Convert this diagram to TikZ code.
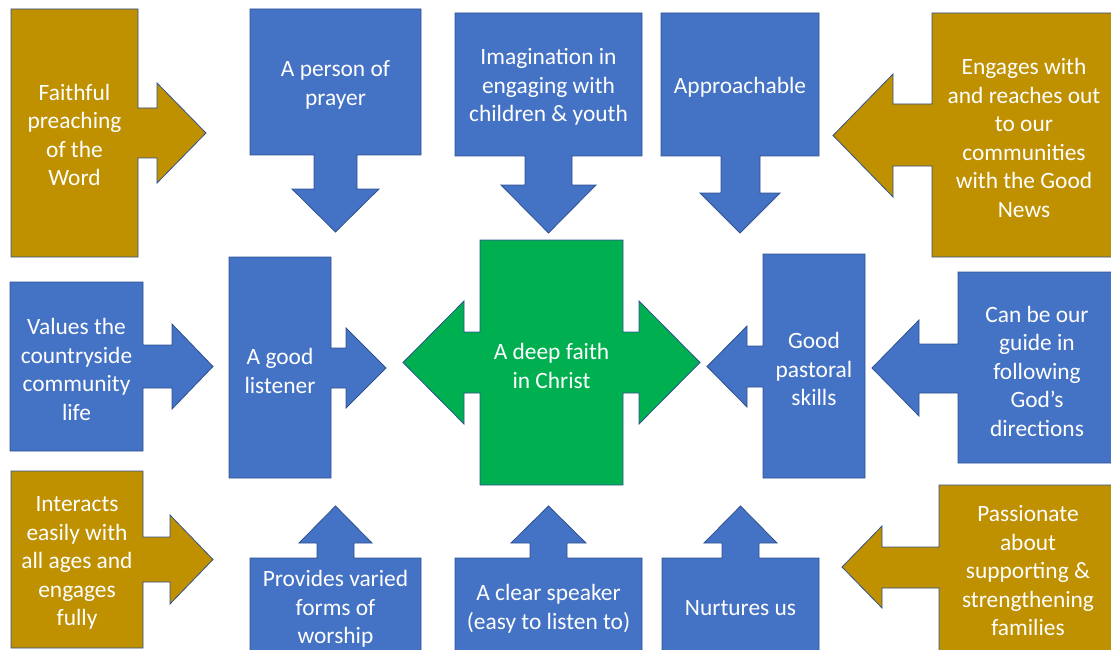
\documentclass[tikz,border=0pt]{standalone}
\usepackage{fontspec}
\setmainfont{Carlito}
\usepackage{tikz}
\usetikzlibrary{positioning}
\definecolor{officeblue}{HTML}{4472C4}
\definecolor{officegold}{HTML}{BF9000}
\definecolor{officegreen}{HTML}{00B050}
\definecolor{officeedge}{HTML}{2F528F}
\tikzset{bluebox/.style={fill=officeblue, draw=officeedge, line width=0.8pt}}
\tikzset{goldbox/.style={fill=officegold, draw=officeedge, line width=0.8pt}}
\tikzset{greenbox/.style={fill=officegreen, draw=officeedge, line width=0.8pt}}
\tikzset{boxtext/.style={text=white, align=center, inner sep=0pt, yshift=-2pt,
    font=\fontsize{23.4}{28.5}\selectfont}}

\begin{document}
\begin{tikzpicture}[x=1pt,y=-1pt]
          \useasboundingbox (0,0) rectangle (1111,650);
          % top row
          \draw[goldbox] (11,9) -- (138,9) -- (138,108) -- (157,108) -- (157,83) -- (206,133)
          -- (157,183) -- (157,158) -- (138,158) -- (138,257) -- (11,257) -- cycle;
          \node[boxtext] (faithful) at (74.5,133) {Faithful\\preaching\\of the\\Word};
          \draw[bluebox] (250,9) -- (421,9) -- (421,155) -- (357,155) -- (357,189) -- (379,189)
          -- (335.5,232) -- (292,189) -- (314,189) -- (314,155) -- (250,155) -- cycle;
          \node[boxtext] (prayer) at (335.5,83) {A person of\\prayer};
          \draw[bluebox] (455,13) -- (642,13) -- (642,156) -- (572,156) -- (572,185) -- (596,185)
          -- (548.5,233) -- (501,185) -- (525,185) -- (525,156) -- (455,156) -- cycle;
          \node[boxtext] (imagination) at (548.5,85) {Imagination in\\engaging with\\children \& youth};
          \draw[bluebox] (661,13) -- (819,13) -- (819,156) -- (760,156) -- (760,193) -- (780,193)
          -- (740,233) -- (700,193) -- (721,193) -- (721,156) -- (661,156) -- cycle;
          \node[boxtext] (approachable) at (740,85) {Approachable};
          \draw[goldbox] (1116,13) -- (932,13) -- (932,104) -- (893,104) -- (893,74) -- (833,135.5)
          -- (893,197) -- (893,166) -- (932,166) -- (932,257) -- (1116,257) -- cycle;
          \node[boxtext] (engages) at (1024,136) {Engages with\\and reaches out\\to our\\communities\\with the Good\\News};
          % middle row
          \draw[bluebox] (10,282) -- (143,282) -- (143,345) -- (172,345) -- (172,324) -- (213,366.5)
          -- (172,409) -- (172,388) -- (143,388) -- (143,451) -- (10,451) -- cycle;
          \node[boxtext] (values) at (76.5,367.5) {Values the\\countryside\\community\\life};
          \draw[bluebox] (229,257) -- (331,257) -- (331,348) -- (346,348) -- (346,328) -- (386,368)
          -- (346,408) -- (346,388) -- (331,388) -- (331,478) -- (229,478) -- cycle;
          \node[boxtext] (listener) at (280,369) {A good\\listener};
          \draw[greenbox] (480,240) -- (623,240) -- (623,332) -- (639,332) -- (639,301) -- (700,362.5)
          -- (639,424) -- (639,393) -- (623,393) -- (623,485) -- (480,485) -- (480,393)
          -- (464,393) -- (464,424) -- (403,362.5) -- (464,301) -- (464,332) -- (480,332) -- cycle;
          \node[boxtext] (faith) at (551.5,364) {A deep faith\\in Christ};
          \draw[bluebox] (865,254) -- (763,254) -- (763,346) -- (747,346) -- (747,326) -- (707,366.5)
          -- (747,407) -- (747,387) -- (763,387) -- (763,478) -- (865,478) -- cycle;
          \node[boxtext] (pastoral) at (814,367) {Good\\pastoral\\skills};
          \draw[bluebox] (1116,272) -- (958,272) -- (958,344) -- (919,344) -- (919,320) -- (872,368)
          -- (919,416) -- (919,393) -- (958,393) -- (958,463) -- (1116,463) -- cycle;
          \node[boxtext] (guide) at (1037,369) {Can be our\\guide in\\following\\God’s\\directions};
          % bottom row
          \draw[goldbox] (11,471) -- (143,471) -- (143,537) -- (170,537) -- (170,515) -- (213,559.5)
          -- (170,604) -- (170,582) -- (143,582) -- (143,648) -- (11,648) -- cycle;
          \node[boxtext] (interacts) at (77,561) {Interacts\\easily with\\all ages and\\engages\\fully};
          \draw[bluebox] (250,656) -- (421,656) -- (421,558) -- (354,558) -- (354,543) -- (372,543)
          -- (335.5,506) -- (299,543) -- (317,543) -- (317,558) -- (250,558) -- cycle;
          \node[boxtext] (worship) at (335.5,607) {Provides varied\\forms of\\worship};
          \draw[bluebox] (455,656) -- (642,656) -- (642,558) -- (567,558) -- (567,543) -- (586,543)
          -- (548.5,506) -- (511,543) -- (530,543) -- (530,558) -- (455,558) -- cycle;
          \node[boxtext] (speaker) at (548.5,607) {A clear speaker\\(easy to listen to)};
          \draw[bluebox] (662,656) -- (819,656) -- (819,558) -- (759,558) -- (759,543) -- (777,543)
          -- (740.5,506) -- (704,543) -- (722,543) -- (722,558) -- (662,558) -- cycle;
          \node[boxtext] (nurtures) at (740.5,606) {Nurtures us};
          \draw[goldbox] (1116,485) -- (939,485) -- (939,547) -- (882,547) -- (882,526) -- (842,567)
          -- (882,608) -- (882,588) -- (939,588) -- (939,656) -- (1116,656) -- cycle;
          \node[boxtext] (families) at (1028,569) {Passionate\\about\\supporting \&\\strengthening\\families};
        \end{tikzpicture}
\end{document}
